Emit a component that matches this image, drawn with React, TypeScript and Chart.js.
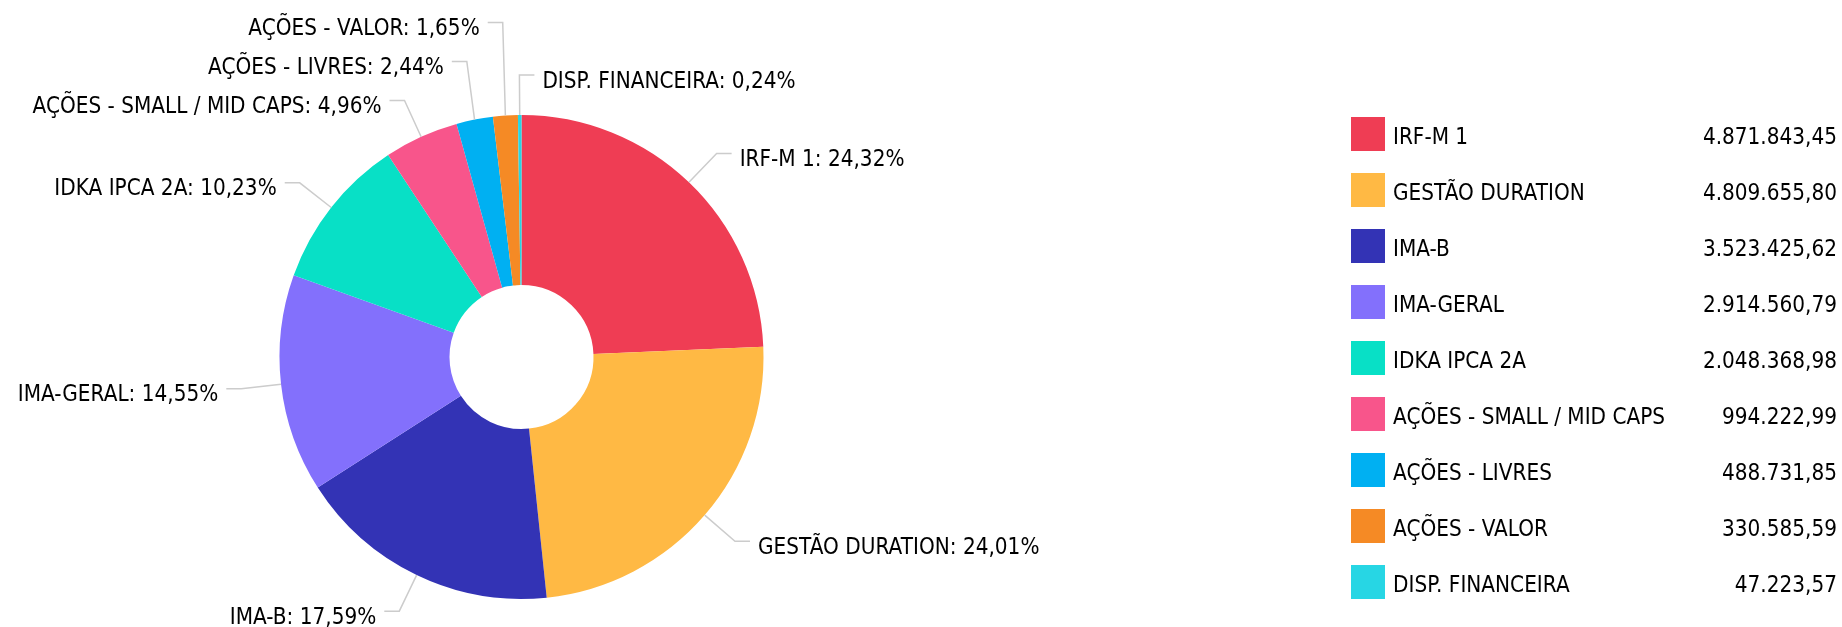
import React, { useEffect, useRef } from 'react';
import { Chart, registerables } from 'chart.js';

Chart.register(...registerables);

const categories = [
  'IRF-M 1',
  'GESTÃO DURATION',
  'IMA-B',
  'IMA-GERAL',
  'IDKA IPCA 2A',
  'AÇÕES - SMALL / MID CAPS',
  'AÇÕES - LIVRES',
  'AÇÕES - VALOR',
  'DISP. FINANCEIRA',
];

const values = [
  4871843.45, 4809655.8, 3523425.62, 2914560.79, 2048368.98, 994222.99, 488731.85, 330585.59, 47223.57,
];

const colors = [
  '#EF3D54',
  '#FFB944',
  '#3333B5',
  '#8370FC',
  '#08E0C6',
  '#F8558B',
  '#00B0F2',
  '#F58A25',
  '#27D6E4',
];

const FONT = '23px "DejaVu Sans"';
const SX = 0.873;
const TEXT_COLOR = '#000000';
const LINE_COLOR = '#cccccc';

function fmtNumber(v: number): string {
  const [i, d] = v.toFixed(2).split('.');
  return i.replace(/\B(?=(\d{3})+(?!\d))/g, '.') + ',' + d;
}

function fmtPct(v: number, total: number): string {
  return ((v / total) * 100).toFixed(2).replace('.', ',') + '%';
}

function drawScaled(ctx: CanvasRenderingContext2D, text: string, x: number, y: number, align: CanvasTextAlign) {
  ctx.save();
  ctx.translate(x, y);
  ctx.scale(SX, 1);
  ctx.font = FONT;
  ctx.fillStyle = TEXT_COLOR;
  ctx.textAlign = align;
  ctx.textBaseline = 'alphabetic';
  ctx.fillText(text, 0, 0);
  ctx.restore();
}

const sliceLabels = {
  id: 'sliceLabels',
  afterDatasetsDraw(chart: any) {
    const ctx: CanvasRenderingContext2D = chart.ctx;
    const meta = chart.getDatasetMeta(0);
    const total = values.reduce((a, b) => a + b, 0);
    const items = meta.data.map((arc: any, i: number) => {
      const p = arc.getProps(['x', 'y', 'startAngle', 'endAngle', 'outerRadius'], true);
      const mid = (p.startAngle + p.endAngle) / 2;
      const c = Math.cos(mid);
      const s = Math.sin(mid);
      return {
        i,
        ex: p.x + p.outerRadius * c,
        ey: p.y + p.outerRadius * s,
        bx: p.x + (p.outerRadius + 40) * c,
        by: p.y + (p.outerRadius + 40) * s,
        right: c > -0.02,
      };
    });
    const GAP = 39;
    const left = items.filter((d: any) => !d.right).sort((a: any, b: any) => b.by - a.by);
    for (let k = 1; k < left.length; k++) left[k].by = Math.min(left[k].by, left[k - 1].by - GAP);
    const right = items.filter((d: any) => d.right).sort((a: any, b: any) => a.by - b.by);
    for (let k = 1; k < right.length; k++) right[k].by = Math.max(right[k].by, right[k - 1].by + GAP);

    ctx.save();
    ctx.strokeStyle = LINE_COLOR;
    ctx.lineWidth = 1.5;
    items.forEach((d: any) => {
      const dir = d.right ? 1 : -1;
      ctx.beginPath();
      ctx.moveTo(d.ex, d.ey);
      ctx.lineTo(d.bx, d.by);
      ctx.lineTo(d.bx + dir * 15, d.by);
      ctx.stroke();
      const text = categories[d.i] + ': ' + fmtPct(values[d.i], total);
      drawScaled(ctx, text, d.bx + dir * 23, d.by + 12.5, d.right ? 'left' : 'right');
    });
    ctx.restore();
  },
};

const sideLegend = {
  id: 'sideLegend',
  afterDraw(chart: any) {
    const ctx: CanvasRenderingContext2D = chart.ctx;
    ctx.save();
    categories.forEach((name, i) => {
      const cy = 134 + i * 56;
      ctx.fillStyle = colors[i];
      ctx.fillRect(1351, cy - 17, 34, 34);
      drawScaled(ctx, name, 1393, cy + 9.5, 'left');
      drawScaled(ctx, fmtNumber(values[i]), 1837, cy + 9.5, 'right');
    });
    ctx.restore();
  },
};

export default function App() {
  const ref = useRef<HTMLCanvasElement | null>(null);
  useEffect(() => {
    if (!ref.current) return;
    const chart = new Chart(ref.current, {
      type: 'doughnut',
      data: {
        labels: categories,
        datasets: [
          {
            data: values,
            backgroundColor: colors,
            borderWidth: 0,
            hoverOffset: 0,
            offset: 0,
          },
        ],
      },
      options: {
        responsive: false,
        animation: false,
        events: [],
        cutout: 72,
        layout: { padding: { left: 279.5, right: 1078.5, top: 115, bottom: 28 } },
        plugins: {
          legend: { display: false },
          tooltip: { enabled: false },
        },
      },
      plugins: [sliceLabels, sideLegend],
    });
    return () => chart.destroy();
  }, []);
  return (
    <div style={{ position: 'absolute', left: 0, top: 0, width: 1842, height: 627, background: '#ffffff' }}>
      <canvas ref={ref} width={1842} height={627} style={{ display: 'block' }} />
    </div>
  );
}
